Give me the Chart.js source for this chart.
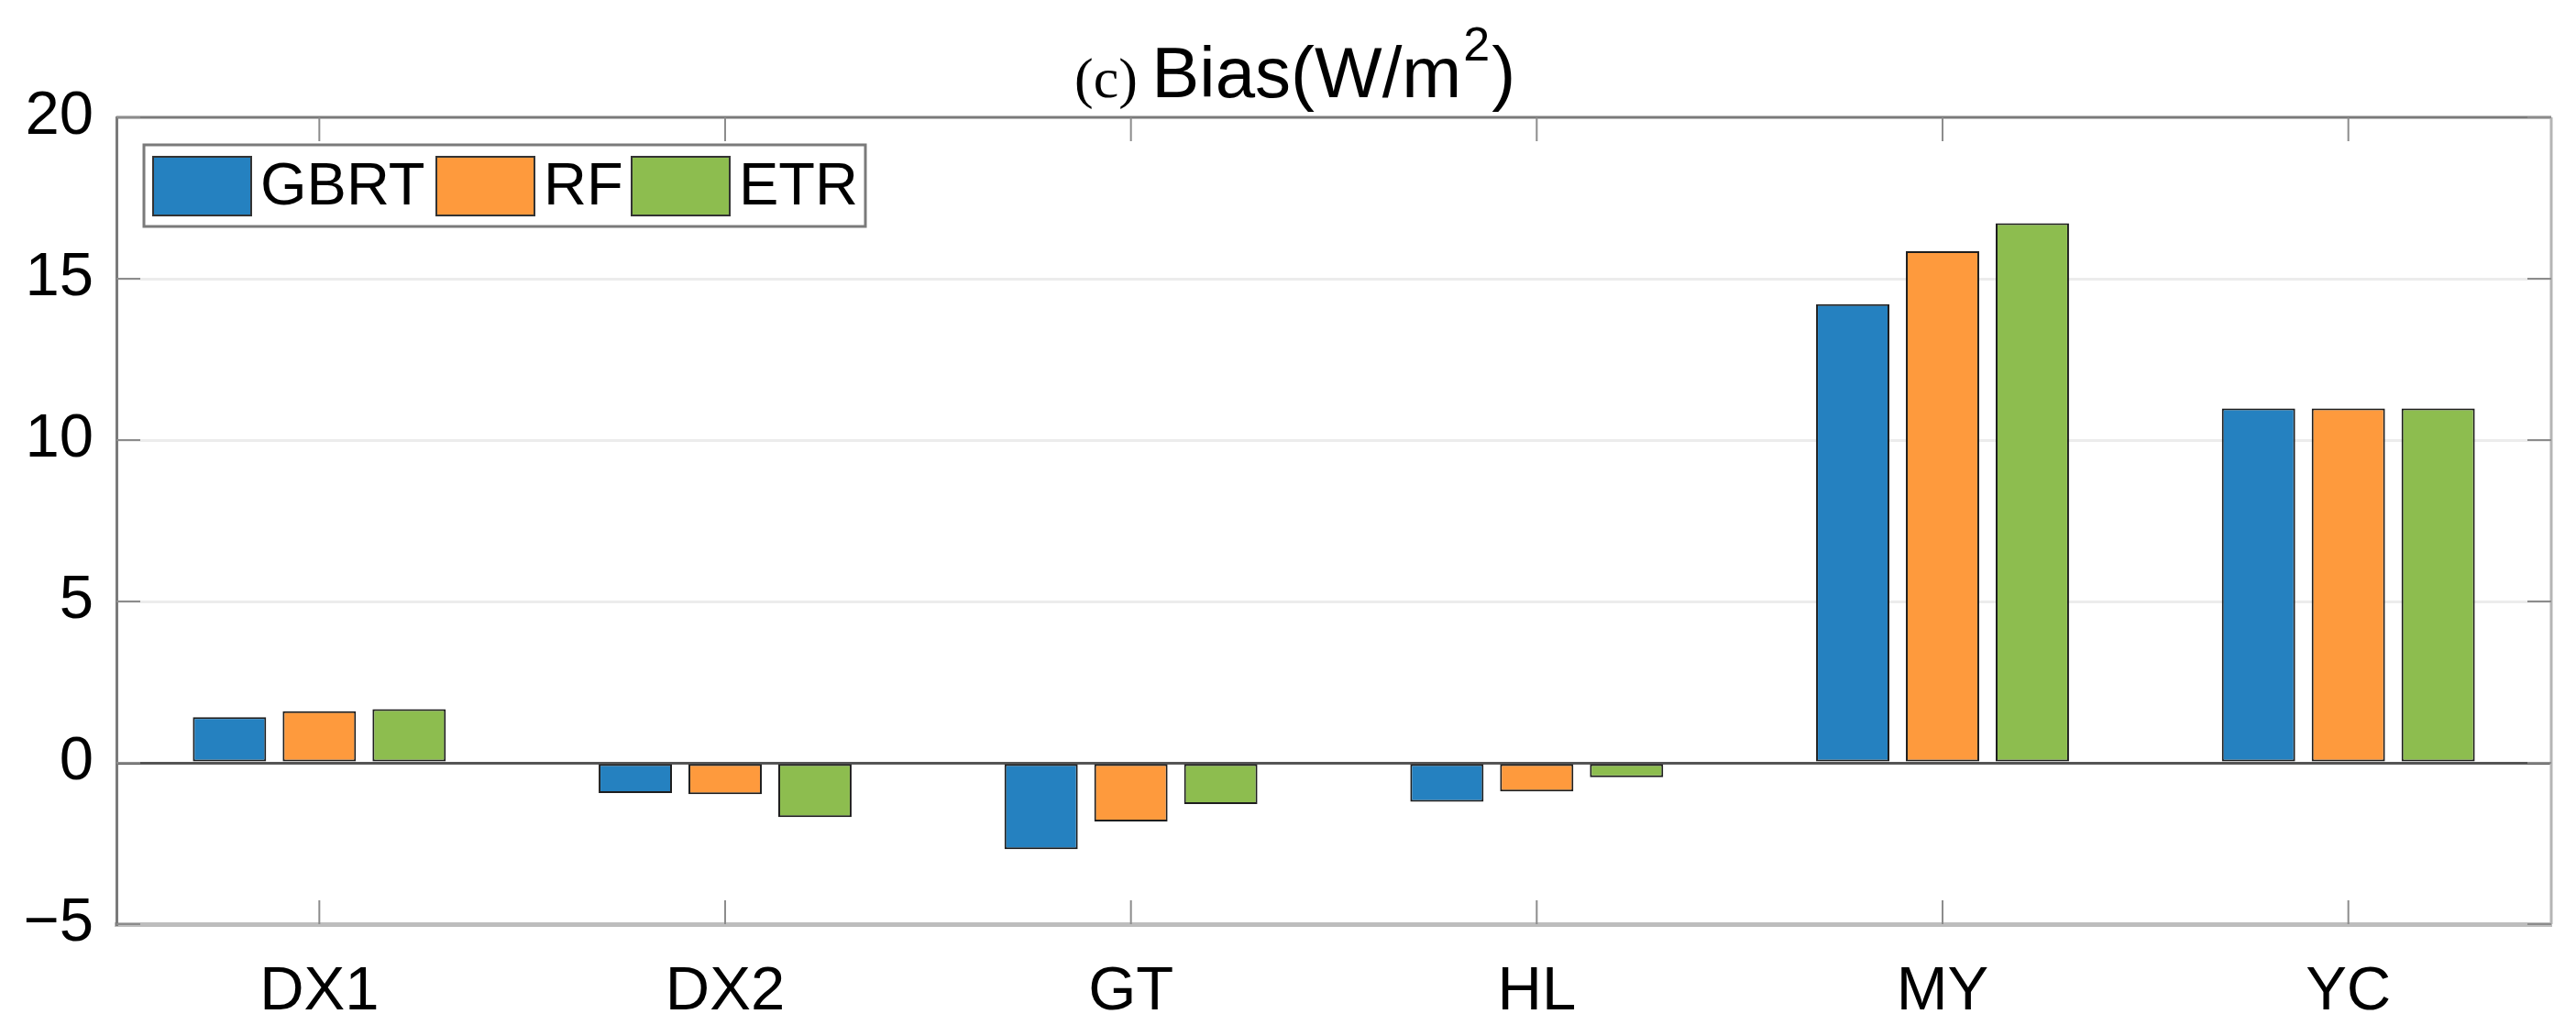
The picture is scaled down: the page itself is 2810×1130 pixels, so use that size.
<!DOCTYPE html>
<html>
<head>
<meta charset="utf-8">
<title>Bias</title>
<script src="https://cdn.jsdelivr.net/npm/chart.js@4/dist/chart.umd.min.js"></script>
<style>
   body { margin: 0; background: #ffffff; }
   canvas { display: block; }
</style>
</head>
<body>
<canvas id="biasChart" width="2810" height="1130"></canvas>
<script>
// data
const sites = ["DX1", "DX2", "GT", "HL", "MY", "YC"];
const gbrt = [1.41, -0.94, -2.68, -1.21, 14.21, 10.98];
const rf = [1.60, -0.97, -1.82, -0.89, 15.85, 10.98];
const etr = [1.66, -1.68, -1.28, -0.45, 16.72, 10.98];
const yTicks = [-5, 0, 5, 10, 15, 20];

const colors = ["#2581c0", "#fe9a3d", "#8dbd4f"];
const sansFont = "'Liberation Sans', Arial, Helvetica, sans-serif";

// box, tick stubs, legend and title (matlab look)
const extrasPlugin = {
   id: "extras",
   afterDraw(chart) {
      const ctx = chart.ctx;
      const area = chart.chartArea;
      const x = chart.scales.x;
      const y = chart.scales.y;
      ctx.save();

      // top + right border
      ctx.lineWidth = 3;
      ctx.strokeStyle = "#7a7a7a";
      ctx.beginPath();
      ctx.moveTo(area.left, area.top);
      ctx.lineTo(area.right, area.top);
      ctx.stroke();
      ctx.strokeStyle = "#b5b5b5";
      ctx.beginPath();
      ctx.moveTo(area.right, area.top);
      ctx.lineTo(area.right, area.bottom);
      ctx.stroke();

      // inner tick marks
      ctx.lineWidth = 2;
      ctx.strokeStyle = "#8c8c8c";
      const len = 26;
      x.ticks.forEach(function (t, i) {
         const px = x.getPixelForTick(i);
         ctx.beginPath();
         ctx.moveTo(px, area.top);
         ctx.lineTo(px, area.top + len);
         ctx.moveTo(px, area.bottom);
         ctx.lineTo(px, area.bottom - len);
         ctx.stroke();
      });
      yTicks.forEach(function (v) {
         const py = y.getPixelForValue(v);
         ctx.beginPath();
         ctx.moveTo(area.left, py);
         ctx.lineTo(area.left + len, py);
         ctx.moveTo(area.right, py);
         ctx.lineTo(area.right - len, py);
         ctx.stroke();
      });

      // legend box
      const lx = area.left + 30, ly = area.top + 30;
      ctx.fillStyle = "#ffffff";
      ctx.fillRect(lx, ly, 787, 89);
      ctx.lineWidth = 3;
      ctx.strokeStyle = "#7a7a7a";
      ctx.strokeRect(lx, ly, 787, 89);
      const swatchX = [lx + 10, lx + 319, lx + 532];
      ctx.font = "65px " + sansFont;
      ctx.textBaseline = "middle";
      ctx.textAlign = "left";
      chart.data.datasets.forEach(function (ds, i) {
         ctx.fillStyle = ds.backgroundColor;
         ctx.fillRect(swatchX[i], ly + 13, 107, 64);
         ctx.lineWidth = 2;
         ctx.strokeStyle = "#333333";
         ctx.strokeRect(swatchX[i], ly + 13, 107, 64);
         ctx.fillStyle = "#000000";
         ctx.fillText(ds.label, swatchX[i] + 117, ly + 47);
      });

      // title with superscript
      ctx.textBaseline = "alphabetic";
      ctx.fillStyle = "#000000";
      let tx = 1172;
      const base = 106;
      ctx.font = "62px 'Liberation Serif', 'Times New Roman', serif";
      ctx.fillText("(c) ", tx, base);
      tx += ctx.measureText("(c) ").width;
      ctx.font = "78px " + sansFont;
      ctx.fillText("Bias(W/m", tx, base);
      tx += ctx.measureText("Bias(W/m").width;
      ctx.font = "52px " + sansFont;
      ctx.fillText("2", tx + 2, base - 40);
      tx += ctx.measureText("2").width + 4;
      ctx.font = "78px " + sansFont;
      ctx.fillText(")", tx, base);

      ctx.restore();
   }
};

const ctx = document.getElementById("biasChart").getContext("2d");
new Chart(ctx, {
   type: "bar",
   data: {
      labels: sites,
      datasets: [
         { label: "GBRT", data: gbrt, backgroundColor: colors[0] },
         { label: "RF", data: rf, backgroundColor: colors[1] },
         { label: "ETR", data: etr, backgroundColor: colors[2] }
      ]
   },
   options: {
      responsive: false,
      animation: false,
      layout: { padding: { left: 0, right: 27, top: 128, bottom: 0 } },
      datasets: {
         bar: {
            categoryPercentage: 0.664,
            barPercentage: 0.816,
            borderColor: "#1e1e1e",
            borderWidth: 2,
            borderSkipped: false
         }
      },
      scales: {
         x: {
            afterFit: function (scale) { scale.height = 122; },
            grid: { display: false, drawTicks: false },
            border: { display: true, color: "#bdbdbd", width: 5 },
            ticks: {
               color: "#000000",
               padding: 34,
               font: { family: sansFont, size: 67 }
            }
         },
         y: {
            min: -5,
            max: 20,
            afterFit: function (scale) { scale.width = 127; },
            afterBuildTicks: function (scale) {
               scale.ticks = yTicks.map(function (v) { return { value: v }; });
            },
            grid: {
               drawTicks: false,
               lineWidth: 3,
               color: function (c) {
                  if (c.tick.value === 0) return "#555555";
                  if (c.tick.value === -5 || c.tick.value === 20) return "rgba(0,0,0,0)";
                  return "#ececec";
               }
            },
            border: { display: true, color: "#7a7a7a", width: 3 },
            ticks: {
               color: "#000000",
               padding: 25,
               font: { family: sansFont, size: 67 },
               callback: function (v) { return String(v).replace("-", "\u2212"); }
            }
         }
      },
      plugins: {
         legend: { display: false },
         title: { display: false },
         tooltip: { enabled: false }
      }
   },
   plugins: [extrasPlugin]
});
</script>
</body>
</html>
